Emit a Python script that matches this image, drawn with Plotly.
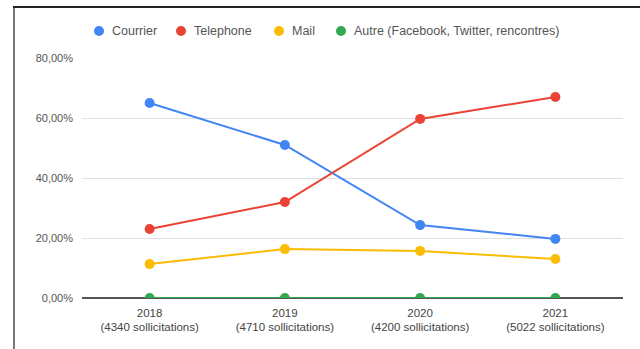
import plotly.graph_objects as go

categories = ["2018<br>(4340 sollicitations)", "2019<br>(4710 sollicitations)",
              "2020<br>(4200 sollicitations)", "2021<br>(5022 sollicitations)"]
courrier = [65.0, 51.0, 24.3, 19.7]
telephone = [23.0, 32.0, 59.7, 67.0]
mail = [11.3, 16.3, 15.7, 13.0]
autre = [0.0, 0.0, 0.0, 0.0]

series_names = ["Courrier", "Telephone", "Mail", "Autre (Facebook, Twitter, rencontres)"]
series_values = [courrier, telephone, mail, autre]
series_colors = ["#4285F4", "#EA4335", "#FBBC04", "#34A853"]

L, R, T, B = 82, 17, 58, 51
W, H = 640, 349
pw, ph = W - L - R, H - T - B

def px(x):
    return (x - L) / pw

def py(y):
    return (H - B - y) / ph

fig = go.Figure()
for name, vals, col in zip(series_names, series_values, series_colors):
    fig.add_trace(go.Scatter(x=categories, y=vals, mode="lines+markers", name=name,
                             line=dict(color=col, width=2),
                             marker=dict(color=col, size=10),
                             showlegend=False, cliponaxis=True))

# custom legend (circle + text) matching the reference layout
legend_marker_x = [99, 181, 279, 341]
legend_y = 31
shapes = []
annotations = []
for name, col, mx in zip(series_names, series_colors, legend_marker_x):
    shapes.append(dict(type="circle", xref="paper", yref="paper",
                       x0=px(mx - 5), x1=px(mx + 5), y0=py(legend_y + 5), y1=py(legend_y - 5),
                       fillcolor=col, line=dict(color=col, width=0)))
    annotations.append(dict(text=name, xref="paper", yref="paper", x=px(mx + 11), y=py(legend_y),
                            xanchor="left", yanchor="middle", showarrow=False,
                            font=dict(size=12.5, color="#555")))

# hide lower half of baseline markers (as clipped in reference)
shapes.append(dict(type="rect", xref="paper", yref="paper", layer="above",
                   x0=px(75), x1=px(630), y0=py(299.2), y1=py(305),
                   fillcolor="white", line=dict(width=0)))
# frame lines
shapes.append(dict(type="line", xref="paper", yref="paper", x0=px(14), x1=px(14),
                   y0=py(7), y1=py(349), line=dict(color="#777", width=2)))
shapes.append(dict(type="line", xref="paper", yref="paper", x0=px(13), x1=px(640),
                   y0=py(7), y1=py(7), line=dict(color="#222", width=2)))

fig.update_layout(
    width=W, height=H,
    margin=dict(l=L, r=R, t=T, b=B, pad=0),
    paper_bgcolor="white", plot_bgcolor="white",
    font=dict(family="Liberation Sans, Arial, sans-serif", size=11, color="#444"),
    showlegend=False,
    xaxis=dict(showgrid=False, showline=False, ticks="", tickfont=dict(size=11.5, color="#444"),
               range=[-0.5, 3.5], ticklabelstandoff=6),
    yaxis=dict(range=[0, 80], dtick=20, ticksuffix="%", tickformat=".2f",
               showgrid=True, gridcolor="#e0e0e0", gridwidth=1,
               zeroline=True, zerolinecolor="#555", zerolinewidth=2,
               tickfont=dict(size=11, color="#555"), ticks="", ticklabelstandoff=8),
    separators=", ",
    shapes=shapes,
    annotations=annotations,
)

fig.write_html("out.html")
